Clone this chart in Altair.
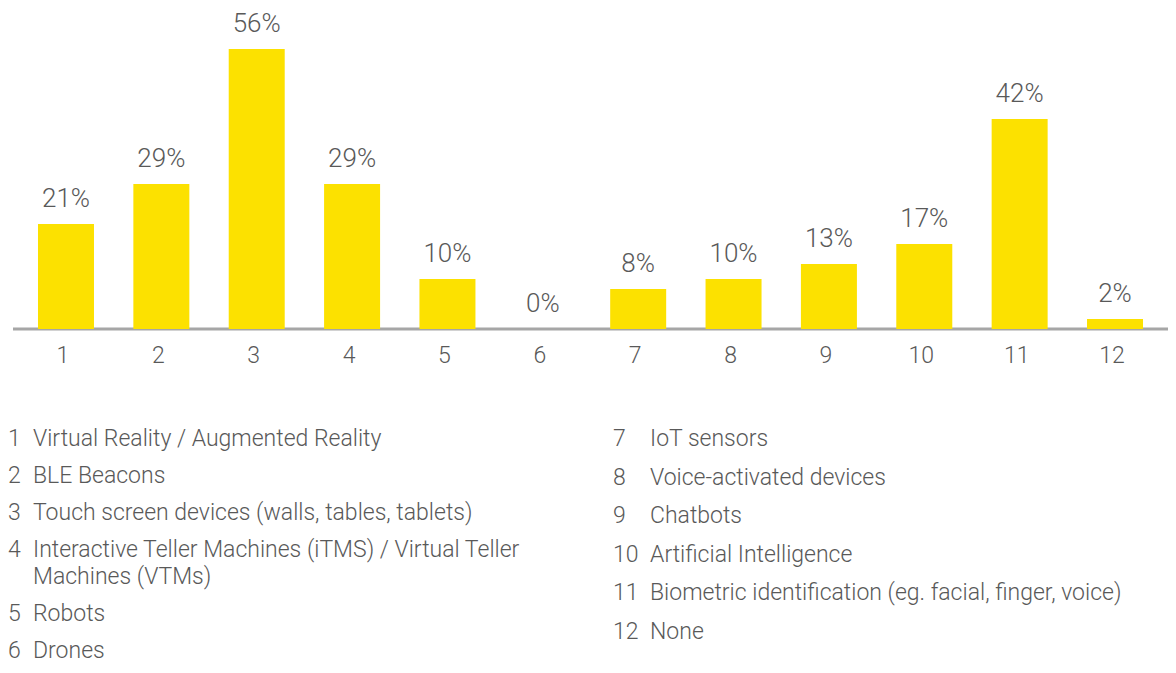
import altair as alt
import pandas as pd

# ---- data ----
categories = ["1", "2", "3", "4", "5", "6", "7", "8", "9", "10", "11", "12"]
values = [21, 29, 56, 29, 10, 0, 8, 10, 13, 17, 42, 2]
legend_numbers = ["1", "2", "3", "4", "5", "6", "7", "8", "9", "10", "11", "12"]
legend_texts = [
    "Virtual Reality / Augmented Reality",
    "BLE Beacons",
    "Touch screen devices (walls, tables, tablets)",
    "Interactive Teller Machines (iTMS) / Virtual Teller\nMachines (VTMs)",
    "Robots",
    "Drones",
    "IoT sensors",
    "Voice-activated devices",
    "Chatbots",
    "Artificial Intelligence",
    "Biometric identification (eg. facial, finger, voice)",
    "None",
]
legend_columns = [0, 0, 0, 0, 0, 0, 1, 1, 1, 1, 1, 1]

# ---- style ----
FONT = "Roboto"
WEIGHT = 300
TEXT = "#595959"
YELLOW = "#FCE100"
AXIS_GRAY = "#A6A6A6"
W, H = 1155, 656
PX_PER_PCT = 5.0
BASE_Y = 329.0           # page pixel of 0 %
YMAX = (BASE_Y - 8) / PX_PER_PCT
YMIN = YMAX - H / PX_PER_PCT

bars_df = pd.DataFrame({
    "cat": categories,
    "value": values,
    "label": [f"{v}%" for v in values],
})

# legend layout (pixel offsets from first row)
PITCH = {0: 37.0, 1: 38.6}
LINE_H = 27
rows = []
cursor = {0: 0.0, 1: 0.0}
for num, txt, col in zip(legend_numbers, legend_texts, legend_columns):
    n_lines = txt.count("\n") + 1
    rows.append({"num": num, "text": txt, "col": col, "pos": cursor[col]})
    cursor[col] += PITCH[col] + (n_lines - 1) * LINE_H
leg_df = pd.DataFrame(rows)

FIRST_TOP = 428.0  # page pixel of first legend row top
P0 = 8 - FIRST_TOP
P1 = 8 + H - FIRST_TOP
# x: column 0 numbers at group x -5, column 1 numbers at group x 600
X0, X1 = -5.0, 600.0
D0 = (0 - X0) / (X1 - X0)
D1 = D0 + W / (X1 - X0)

xb = alt.X("cat:N", sort=categories,
           scale=alt.Scale(paddingInner=0.4128, paddingOuter=0.262), axis=None)
ysc = alt.Scale(domain=[YMIN, YMAX], nice=False, zero=False)

rule = alt.Chart(pd.DataFrame({"z": [0]})).mark_rule(
    color=AXIS_GRAY, strokeWidth=3
).encode(y=alt.Y("z:Q", scale=ysc, axis=None))

bars = alt.Chart(bars_df).mark_bar(color=YELLOW).encode(
    x=xb,
    y=alt.Y("value:Q", scale=ysc, axis=None),
    y2=alt.datum(0),
)

pct = alt.Chart(bars_df).mark_text(
    dy=-25, fontSize=26, font=FONT, fontWeight=WEIGHT, color=TEXT, baseline="middle"
).encode(x=xb, y=alt.Y("value:Q", scale=ysc, axis=None), text="label:N")

ticks = alt.Chart(bars_df).mark_text(
    dy=27, dx=-3, fontSize=23, font=FONT, fontWeight=WEIGHT, color=TEXT, baseline="middle"
).encode(x=xb, y=alt.datum(0, type="quantitative"), text="cat:N")

bar_group = alt.layer(rule, bars, pct, ticks)

lx = alt.X("col:Q", scale=alt.Scale(domain=[D0, D1], nice=False, zero=False), axis=None)
ly = alt.Y("pos:Q", scale=alt.Scale(domain=[P0, P1], nice=False, zero=False, reverse=True), axis=None)

LFS = 23
nums = alt.Chart(leg_df).mark_text(
    align="left", baseline="top", fontSize=LFS, font=FONT, fontWeight=WEIGHT, color=TEXT
).encode(x=lx, y=ly, text="num:N")

lab0 = alt.Chart(leg_df).transform_filter(alt.datum.col == 0).mark_text(
    align="left", baseline="top", fontSize=LFS, font=FONT, fontWeight=WEIGHT, color=TEXT,
    dx=25, lineBreak="\n", lineHeight=LINE_H
).encode(x=lx, y=ly, text="text:N")

lab1 = alt.Chart(leg_df).transform_filter(alt.datum.col == 1).mark_text(
    align="left", baseline="top", fontSize=LFS, font=FONT, fontWeight=WEIGHT, color=TEXT,
    dx=37, lineBreak="\n", lineHeight=LINE_H
).encode(x=lx, y=ly, text="text:N")

legend_group = alt.layer(nums, lab0, lab1)

chart = alt.layer(bar_group, legend_group).resolve_scale(
    x="independent", y="independent"
).properties(
    width=W, height=H,
    padding={"left": 5, "top": 0, "right": 0, "bottom": 0},
    autosize=alt.AutoSizeParams(type="none"),
    background="white",
).configure_view(stroke=None)

chart.save("out.html", embed_options={"renderer": "svg", "actions": False})
